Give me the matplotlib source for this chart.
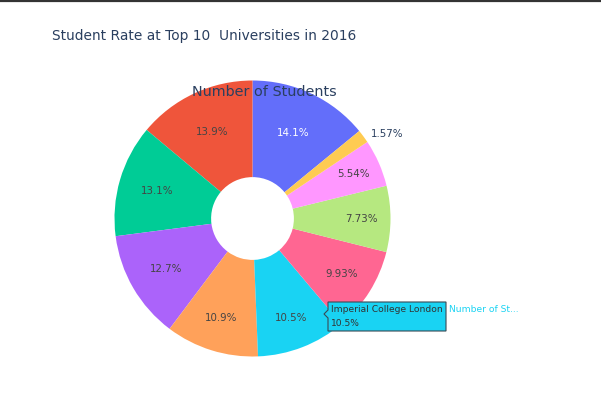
import matplotlib
matplotlib.use("Agg")
import matplotlib.pyplot as plt
import numpy as np
from matplotlib.patches import Polygon

# ---- data ----
universities = [
    "Harvard University", "University of Oxford", "University of Cambridge",
    "ETH Zurich – Swiss Federal Institute of Technology Zurich",
    "Stanford University", "Imperial College London", "University of Chicago",
    "Massachusetts Institute of Technology", "Princeton University",
    "California Institute of Technology",
]
num_students = [20152, 19919, 18812, 18178, 15596, 15060, 14221, 11074, 7929, 2243]
colors = ["#636efa", "#EF553B", "#00cc96", "#ab63fa", "#FFA15A",
          "#19d3f3", "#FF6692", "#B6E880", "#FF97FF", "#FECB52"]
title = "Student Rate at Top 10  Universities in 2016"
annotation = "Number of Students"
hover_index = 5

W, H = 601, 401
fig = plt.figure(figsize=(W / 100, H / 100), dpi=100)
ax = fig.add_axes([0, 0, 1, 1])

def Y(y):
    return H - y

cx, cy, R = 252.5, Y(218.5), 138
vals = np.array(num_students, dtype=float)
frac = vals / vals.sum()
start = 90 - 360 * frac[0]

wedges, _ = ax.pie(vals, colors=colors, startangle=start, counterclock=True,
                   center=(cx, cy), radius=R,
                   wedgeprops=dict(width=R * 0.7, linewidth=0), frame=True)
ax.set_xlim(0, W)
ax.set_ylim(0, H)
ax.set_aspect("equal")
ax.axis("off")

# inside label radii (fraction of R)
label_r = [0.686, 0.69, 0.72, 0.72, 0.755, 0.77, 0.76, 0.79, 0.80]
cum = np.concatenate([[0], np.cumsum(frac)])
for i, f in enumerate(frac):
    mid = np.deg2rad(start + 360 * (cum[i] + cum[i + 1]) / 2)
    txt = f"{f*100:.3g}%"
    if i < len(label_r):
        r = label_r[i] * R
        col = "white" if i == 0 else "#444444"
        ax.text(cx + r * np.cos(mid), cy + r * np.sin(mid), txt,
                ha="center", va="center", fontsize=7.4, color=col,
                family="DejaVu Sans")
    else:
        r = R * 1.03
        ax.text(cx + r * np.cos(mid) + 4, cy + r * np.sin(mid), txt,
                ha="left", va="center", fontsize=7.4, color="#2a3f5f",
                family="DejaVu Sans")

# title and annotation
fig.text(52 / W, 1 - 36 / H, title, ha="left", va="center", fontsize=9.9,
         color="#2a3f5f", family="DejaVu Sans")
ax.text(264.5, Y(92), annotation, ha="center", va="center", fontsize=10.4,
        color="#2a3f5f", family="DejaVu Sans", zorder=5)

# hover label
i = hover_index
box = [(324, 314), (328, 310), (328, 302), (446, 302), (446, 331),
       (328, 331), (328, 318)]
ax.add_patch(Polygon([(x, Y(y)) for x, y in box], closed=True,
                     facecolor=colors[i], edgecolor="#3a4a55", linewidth=0.8,
                     zorder=6))
ax.text(331, Y(310), universities[i], ha="left", va="center", fontsize=6.6,
        color="#333333", family="DejaVu Sans", zorder=7)
ax.text(331, Y(323), f"{frac[i]*100:.3g}%", ha="left", va="center",
        fontsize=6.6, color="#333333", family="DejaVu Sans", zorder=7)
ax.text(449, Y(310), "Number of St...", ha="left", va="center", fontsize=6.6,
        color=colors[i], family="DejaVu Sans", zorder=7)

# top border line
ax.plot([0, W], [H - 0.8, H - 0.8], color="#333333", linewidth=1.6,
        solid_capstyle="butt", clip_on=False)

fig.savefig("out.png", dpi=100)
